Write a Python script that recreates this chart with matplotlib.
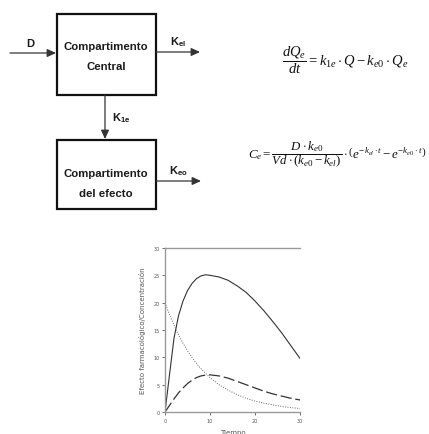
import matplotlib
matplotlib.use("Agg")
import matplotlib.pyplot as plt
from matplotlib.patches import Rectangle, FancyArrowPatch

plt.rcParams["mathtext.fontset"] = "custom"
plt.rcParams["mathtext.rm"] = "Liberation Serif"
plt.rcParams["mathtext.it"] = "Liberation Serif:italic"
plt.rcParams["mathtext.bf"] = "Liberation Sans:bold"

# Time course
tiempo = [0, 1, 2, 3, 4, 5, 6, 7, 8, 9, 10, 12, 14, 16, 18, 20, 22, 24, 26, 28, 30]
efecto = [0, 6.8, 13.5, 17.6, 20.3, 22.2, 23.5, 24.4, 24.9, 25.1, 25.0, 24.7, 24.1,
          23.1, 21.9, 20.3, 18.5, 16.5, 14.4, 12.1, 9.8]
conc_efecto = [0, 1.2, 2.4, 3.5, 4.4, 5.2, 5.8, 6.3, 6.6, 6.75, 6.8, 6.6, 6.2,
               5.6, 5.0, 4.4, 3.8, 3.3, 2.9, 2.5, 2.2]
conc_central = [20, 17.8, 15.9, 14.1, 12.6, 11.2, 10.0, 8.9, 7.9, 7.1, 6.3, 5.0, 4.0,
                3.2, 2.5, 2.0, 1.6, 1.3, 1.0, 0.8, 0.65]
x_ticks = [0, 10, 20, 30]
y_ticks = [0, 5, 10, 15, 20, 25, 30]

W, H = 429, 435
fig = plt.figure(figsize=(W / 100, H / 100), dpi=100)

# ---- compartment diagram (pixel coordinates) ----
dg = fig.add_axes([0, 0, 1, 1])
dg.set_xlim(0, W)
dg.set_ylim(H, 0)
dg.axis("off")

for (x0, y0, x1, y1) in [(57, 15, 156, 96), (57, 141, 156, 210)]:
    dg.add_patch(Rectangle((x0, y0), x1 - x0, y1 - y0, fill=False,
                           ec="#111111", lw=1.6))

box_font = dict(family="Liberation Sans", weight="bold", fontsize=8.2,
                color="#1a1a1a", ha="center", va="center")
dg.text(106, 47, "Compartimento", **box_font)
dg.text(106, 67, "Central", **box_font)
dg.text(106, 174, "Compartimento", **box_font)
dg.text(106, 194, "del efecto", **box_font)


def arrow(p0, p1):
    dg.add_patch(FancyArrowPatch(p0, p1, arrowstyle="-|>,head_length=3.5,head_width=1.6",
                                 color="#333333", lw=0.9, mutation_scale=1.5,
                                 shrinkA=0, shrinkB=0))


arrow((10, 54), (56, 54))
arrow((156, 53), (200, 53))
arrow((105, 96), (105, 140))
arrow((156, 182), (201, 182))

lab = dict(fontsize=8, color="#1a1a1a", ha="center", va="center")
dg.text(31, 43, r"$\mathbf{D}$", **lab)
dg.text(178, 42, r"$\mathbf{K_{el}}$", **lab)
dg.text(121, 118, r"$\mathbf{K_{1e}}$", **lab)
dg.text(178, 171, r"$\mathbf{K_{eo}}$", **lab)

# ---- equations ----
dg.text(345, 60, r"$\dfrac{dQ_e}{dt} = k_{1e}\cdot Q - k_{e0}\cdot Q_e$",
        fontsize=10.5, ha="center", va="center", color="#111111")
dg.text(426, 155,
        r"$C_e = \dfrac{D\cdot k_{e0}}{Vd\cdot(k_{e0} - k_{el})}\cdot"
        r"\left(e^{-k_{el}\cdot t} - e^{-k_{e0}\cdot t}\right)$",
        fontsize=9.3, ha="right", va="center", color="#111111")

# ---- time course chart ----
left, right, top, bottom = 165, 300, 249, 413
ax = fig.add_axes([left / W, (H - bottom) / H, (right - left) / W, (bottom - top) / H])
ax.plot(tiempo, efecto, color="#333333", lw=0.8)
ax.plot(tiempo, conc_efecto, color="#333333", lw=0.9, dashes=(9, 3))
ax.plot(tiempo, conc_central, color="#666666", lw=0.7, dashes=(1, 1.5))
ax.set_xlim(0, 30)
ax.set_ylim(0, 30)
ax.set_xticks(x_ticks)
ax.set_yticks(y_ticks)
ax.tick_params(labelsize=3.5, colors="#555555", length=2, width=0.6, pad=2)
for s in ("left", "bottom", "top"):
    ax.spines[s].set_color("#999999")
    ax.spines[s].set_linewidth(1.0)
ax.spines["right"].set_visible(False)
ax.set_ylabel("Efecto farmacológico/Concentración", fontsize=5, color="#555555",
              labelpad=5)
ax.set_xlabel("Tiempo", fontsize=5, color="#555555", labelpad=5)

fig.savefig("out.png", dpi=100)
